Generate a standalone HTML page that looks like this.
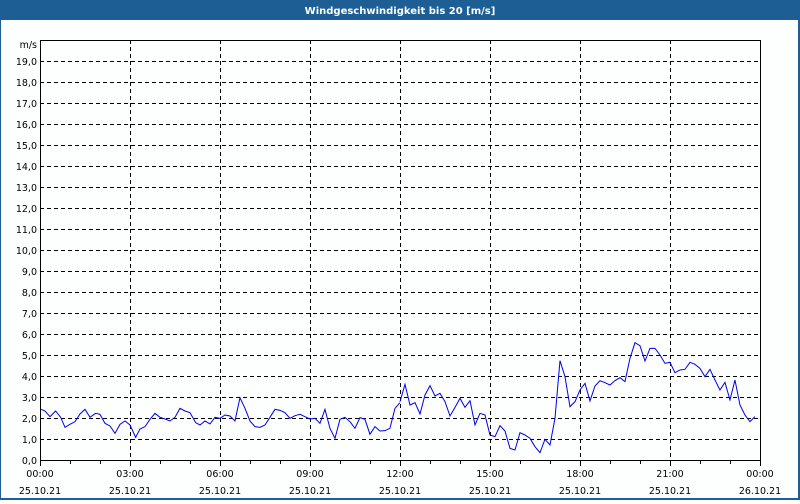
<!DOCTYPE html>
<html><head><meta charset="utf-8"><style>
body{margin:0;width:800px;height:500px;overflow:hidden;background:#fff;font-family:"DejaVu Sans","Liberation Sans",sans-serif;}
</style></head><body>
<svg width="800" height="500" xmlns="http://www.w3.org/2000/svg" font-family="DejaVu Sans, Liberation Sans, sans-serif" font-size="9.5">
<rect x="0" y="0" width="800" height="500" fill="#1d5e95"/>
<rect x="1" y="20" width="797" height="478" fill="#fdfefe"/>
<text x="400" y="14" fill="#fff" font-weight="bold" text-anchor="middle" font-size="10">Windgeschwindigkeit bis 20 [m/s]</text>
<g stroke="#000" stroke-dasharray="4,3" stroke-width="1">
<g id="h"></g>
</g>
<g id="grid"></g>
<text x="37" y="48" text-anchor="end">m/s</text>
<g id="lab"></g>
<rect x="40.5" y="40.5" width="720" height="420" fill="none" stroke="#000"/>
<polyline transform="translate(30,330) scale(0.3333)" vector-effect="non-scaling-stroke" fill="none" stroke="#0000ee" stroke-width="1" points="33,238 45,243 60,260 77,243 92,262 105,292 120,283 135,275 150,252 165,238 180,262 197,250 210,253 225,280 240,288 255,310 270,283 285,273 300,285 317,322 330,297 345,290 360,268 375,250 390,262 405,267 420,273 435,262 450,235 465,243 480,248 497,278 510,285 525,273 540,282 555,262 570,265 585,255 600,258 615,273 630,203 645,235 660,273 675,290 690,292 705,285 720,262 735,238 750,241 765,248 780,265 795,257 810,253 825,260 840,267 855,265 870,280 885,238 900,295 915,325 930,268 945,262 960,275 975,295 990,263 1005,268 1020,313 1035,290 1050,303 1065,302 1080,295 1095,235 1110,218"/>
<polyline transform="translate(400,330) scale(0.3333)" vector-effect="non-scaling-stroke" fill="none" stroke="#0000ee" stroke-width="1" points="0,215 15,163 30,225 45,218 60,252 75,195 90,167 105,198 120,190 135,215 150,258 165,232 180,205 195,232 210,212 225,285 240,250 255,255 270,315 285,320 300,287 315,303 330,355 345,360 360,308 375,315 390,325 405,350 420,368 435,328 450,345 465,265 480,92 495,140 510,230 525,215 540,180 555,160 570,213 585,168 600,152 615,158 630,165 645,152 660,143 675,155 690,85 705,38 720,47 735,93 750,55 765,55 780,75 795,100 810,97 825,128 840,120 855,118 870,97 885,103 900,115 915,140 930,118 945,150 960,180 975,157 990,210 1005,150 1020,225 1035,255 1050,275 1065,260"/>
</svg>
<script>
var ns="http://www.w3.org/2000/svg",svg=document.querySelector('svg'),g=document.getElementById('grid'),lab=document.getElementById('lab');
function el(t,a,p,txt){var e=document.createElementNS(ns,t);for(var k in a)e.setAttribute(k,a[k]);if(txt)e.textContent=txt;p.appendChild(e);return e;}
for(var k=0;k<20;k++){var y=460-21*k;
 if(k>0)el('line',{x1:40,x2:760,y1:y+.5,y2:y+.5,stroke:'#000','stroke-dasharray':'4,3'},g);
 el('text',{x:37,y:y+4,'text-anchor':'end'},lab,k+',0');}
var hs=['00:00','03:00','06:00','09:00','12:00','15:00','18:00','21:00','00:00'];
for(var i=0;i<=8;i++){var x=40+90*i;
 if(i>0&&i<8)el('line',{x1:x+.5,x2:x+.5,y1:40,y2:460,stroke:'#000','stroke-dasharray':'4,3'},g);
 el('line',{x1:x+.5,x2:x+.5,y1:460,y2:466,stroke:'#000'},g);
 el('text',{x:x,y:477,'text-anchor':'middle'},lab,hs[i]);
 el('text',{x:x,y:494,'text-anchor':'middle'},lab,i==8?'26.10.21':'25.10.21');}
for(var h=0;h<24;h++){var x=40+30*h;el('line',{x1:x+.5,x2:x+.5,y1:460,y2:464,stroke:'#000'},g);}
</script>
</body></html>
